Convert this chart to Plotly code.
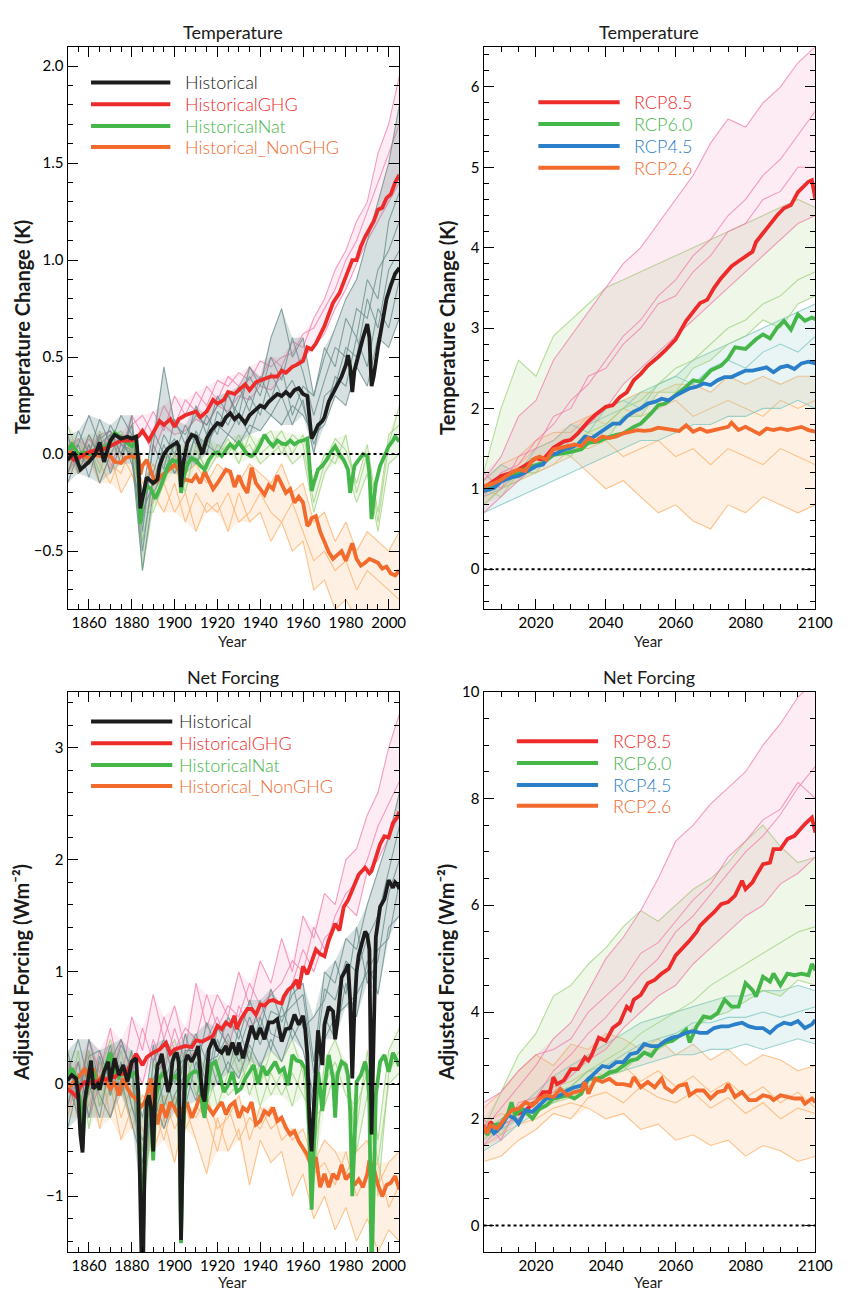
import plotly.graph_objects as go

FONT = "Lato"

# ---------------------------------------------------------------- data
HIST_YEARS = list(range(1850, 2006, 5))   # sample years of thin ensemble members (historical)
RCP_YEARS = list(range(2005, 2101, 5))    # sample years of thin ensemble members (scenarios)

# ---- Temperature change (K), historical experiments, multi-model mean (year, value)
T_HIST = [(1850,-0.03),(1853,0.01),(1856,-0.08),(1860,-0.04),(1863,0.0),(1865,0.06),(1867,-0.04),(1870,0.07),
          (1872,0.10),(1875,0.08),(1878,0.09),(1880,0.08),(1882,0.09),(1883,-0.03),(1884,-0.28),(1885,-0.23),
          (1887,-0.12),(1890,-0.15),(1892,-0.13),(1893,-0.06),(1895,0.0),(1897,0.03),(1900,0.05),(1901,0.06),
          (1902,0.04),(1903,-0.17),(1904,-0.05),(1906,0.06),(1908,0.10),(1910,0.09),(1912,0.03),(1913,0.0),
          (1915,0.08),(1917,0.12),(1920,0.16),(1922,0.15),(1924,0.19),(1926,0.21),(1928,0.18),(1930,0.20),
          (1933,0.16),(1935,0.20),(1937,0.22),(1940,0.25),(1942,0.24),(1944,0.27),(1946,0.29),(1948,0.31),
          (1950,0.30),(1952,0.32),(1954,0.30),(1956,0.33),(1958,0.34),(1960,0.31),(1962,0.30),(1963,0.19),
          (1964,0.08),(1965,0.10),(1967,0.15),(1969,0.17),(1970,0.19),(1972,0.27),(1974,0.31),(1976,0.35),
          (1978,0.40),(1980,0.46),(1981,0.51),(1982,0.45),(1983,0.32),(1984,0.43),(1986,0.52),(1988,0.60),
          (1990,0.67),(1991,0.60),(1992,0.35),(1993,0.40),(1995,0.55),(1997,0.68),(1999,0.80),(2001,0.87),
          (2003,0.93),(2005,0.96)]
T_GHG = [(1850,0.0),(1853,-0.03),(1855,-0.02),(1858,0.0),(1860,0.01),(1863,0.02),(1865,0.02),(1868,0.03),
         (1870,0.04),(1873,0.06),(1875,0.07),(1878,0.07),(1880,0.07),(1883,0.09),(1885,0.12),(1888,0.07),
         (1890,0.11),(1893,0.17),(1895,0.15),(1898,0.18),(1900,0.14),(1902,0.18),(1905,0.20),(1908,0.21),
         (1910,0.22),(1912,0.19),(1915,0.22),(1918,0.28),(1920,0.26),(1923,0.28),(1925,0.32),(1928,0.31),
         (1930,0.33),(1933,0.36),(1935,0.33),(1938,0.37),(1940,0.38),(1943,0.39),(1945,0.40),(1948,0.40),
         (1950,0.43),(1952,0.42),(1955,0.45),(1957,0.46),(1960,0.48),(1962,0.55),(1964,0.54),(1966,0.57),
         (1968,0.61),(1970,0.66),(1972,0.72),(1974,0.78),(1977,0.83),(1980,0.91),(1983,1.0),(1985,1.0),
         (1987,1.07),(1989,1.12),(1991,1.16),(1993,1.20),(1995,1.26),(1997,1.27),(1999,1.32),(2001,1.34),
         (2003,1.40),(2005,1.44)]
T_NAT = [(1850,0.02),(1852,0.05),(1855,0.0),(1858,0.01),(1860,0.0),(1863,0.01),(1865,0.02),(1868,0.04),
         (1870,0.065),(1872,0.11),(1874,0.09),(1877,0.065),(1880,0.04),(1882,0.07),(1883,-0.06),(1884,-0.36),
         (1885,-0.23),(1887,-0.165),(1889,-0.18),(1891,-0.23),(1893,-0.18),(1895,-0.12),(1897,-0.06),(1899,-0.03),
         (1901,-0.04),(1902,-0.03),(1903,-0.20),(1904,-0.13),(1906,-0.05),(1908,-0.02),(1910,-0.03),(1912,-0.06),
         (1914,-0.08),(1916,-0.03),(1918,0.0),(1920,0.01),(1922,-0.01),(1924,0.02),(1926,0.05),(1928,0.03),
         (1930,0.06),(1932,0.03),(1934,0.0),(1936,-0.01),(1938,0.01),(1940,0.05),(1942,0.10),(1944,0.065),
         (1946,0.04),(1948,0.07),(1950,0.055),(1952,0.05),(1954,0.07),(1956,0.05),(1958,0.065),(1960,0.07),
         (1962,0.08),(1963,-0.05),(1964,-0.19),(1965,-0.15),(1967,-0.08),(1969,-0.06),(1971,-0.03),(1973,0.01),
         (1975,0.04),(1977,0.0),(1979,-0.03),(1981,-0.08),(1982,-0.20),(1983,-0.13),(1984,-0.06),(1986,-0.03),
         (1988,0.0),(1990,-0.01),(1991,-0.10),(1992,-0.335),(1993,-0.23),(1994,-0.15),(1996,-0.06),(1998,-0.01),
         (2000,0.04),(2002,0.07),(2003,0.09),(2005,0.065)]
T_NONGHG = [(1850,0.015),(1853,0.005),(1856,-0.01),(1860,-0.02),(1863,-0.005),(1866,-0.01),(1868,-0.005),
            (1870,-0.01),(1872,-0.04),(1875,-0.046),(1877,-0.02),(1880,-0.01),(1882,-0.02),(1883,0.005),
            (1884,-0.105),(1885,-0.06),(1887,-0.03),(1889,-0.09),(1891,-0.15),(1893,-0.12),(1895,-0.10),
            (1898,-0.07),(1900,-0.055),(1902,-0.08),(1903,-0.15),(1905,-0.13),(1908,-0.14),(1910,-0.11),
            (1912,-0.15),(1914,-0.09),(1916,-0.13),(1918,-0.18),(1920,-0.15),(1922,-0.11),(1924,-0.08),
            (1926,-0.09),(1928,-0.17),(1930,-0.11),(1932,-0.165),(1934,-0.20),(1936,-0.07),(1938,-0.15),
            (1940,-0.18),(1942,-0.21),(1944,-0.16),(1946,-0.18),(1948,-0.11),(1950,-0.15),(1952,-0.20),
            (1954,-0.18),(1956,-0.25),(1958,-0.22),(1960,-0.25),(1962,-0.37),(1963,-0.36),(1964,-0.33),
            (1966,-0.32),(1968,-0.40),(1970,-0.45),(1972,-0.505),(1974,-0.54),(1976,-0.52),(1978,-0.50),
            (1980,-0.55),(1982,-0.48),(1983,-0.46),(1985,-0.54),(1987,-0.575),(1989,-0.56),(1991,-0.54),
            (1993,-0.55),(1995,-0.56),(1997,-0.59),(1999,-0.58),(2001,-0.615),(2003,-0.625),(2005,-0.60)]

# thin individual runs (values at HIST_YEARS)
T_HIST_RUNS = [
    [-0.1,0.05,-0.12,0.08,0.12,0.0,0.15,-0.35,0.05,-0.08,0.18,0.05,0.25,0.1,0.3,0.2,0.35,0.22,0.4,0.28,0.45,0.2,0.35,0.3,0.55,0.45,0.7,0.6,0.9,0.8,1.2,1.35],
    [0.05,-0.05,0.1,-0.02,0.15,0.05,0.02,-0.5,-0.1,0.1,0.0,0.15,0.05,0.2,0.1,0.32,0.15,0.3,0.2,0.42,0.3,0.38,0.25,0.05,0.2,0.4,0.35,0.6,0.45,0.75,0.65,0.9],
    [-0.05,0.12,0.0,0.18,0.05,0.2,0.1,-0.2,0.12,0.0,0.08,-0.1,0.12,0.0,0.22,0.15,0.28,0.4,0.3,0.5,0.38,0.6,0.42,0.2,0.38,0.55,0.5,0.75,0.7,0.95,1.05,1.2],
    [0.1,-0.1,0.05,-0.15,0.0,0.1,-0.05,-0.3,-0.15,0.05,-0.1,0.0,-0.05,0.05,0.0,0.1,0.05,0.15,0.12,0.2,0.15,0.25,0.2,0.1,0.15,0.3,0.25,0.45,0.35,0.6,0.55,0.7],
    [0.0,0.05,0.2,0.05,0.1,-0.05,0.2,-0.4,0.05,0.45,0.15,0.1,0.2,0.15,0.25,0.3,0.2,0.45,0.35,0.6,0.75,0.5,0.6,0.3,0.5,0.65,0.8,0.9,1.1,1.3,1.5,1.8],
    [-0.15,0.0,-0.05,0.1,-0.1,0.05,0.0,-0.6,-0.2,-0.1,0.05,-0.05,0.1,0.05,0.15,0.1,0.2,0.1,0.25,0.2,0.3,0.15,0.28,0.0,0.3,0.35,0.55,0.5,0.8,0.65,0.95,1.05],
]
T_GHG_RUNS = [
    [0.05,-0.05,0.08,0.0,0.1,0.05,0.15,0.2,0.1,0.25,0.15,0.28,0.22,0.35,0.28,0.4,0.35,0.45,0.38,0.5,0.45,0.58,0.55,0.7,0.8,0.95,1.05,1.2,1.3,1.55,1.7,1.95],
    [-0.1,0.0,-0.05,0.05,-0.08,0.1,0.05,0.12,0.0,0.15,0.1,0.12,0.18,0.15,0.25,0.22,0.3,0.28,0.35,0.33,0.4,0.45,0.5,0.55,0.62,0.75,0.85,0.98,1.1,1.2,1.3,1.4],
    [0.0,0.08,0.02,0.1,0.12,0.0,0.2,0.1,0.22,0.12,0.3,0.2,0.32,0.25,0.38,0.35,0.42,0.38,0.48,0.45,0.5,0.52,0.62,0.65,0.75,0.85,1.0,1.1,1.25,1.4,1.55,1.7],
]
T_NAT_RUNS = [
    [0.05,-0.05,0.1,0.0,0.08,0.12,0.0,-0.45,-0.15,-0.05,0.05,-0.1,0.02,-0.08,0.05,0.0,0.1,-0.02,0.08,0.12,0.0,0.1,0.05,-0.25,-0.05,0.08,0.02,-0.15,0.05,-0.3,0.1,0.15],
    [-0.1,0.08,-0.05,0.12,0.0,0.05,0.1,-0.6,-0.25,0.0,-0.1,0.05,-0.05,0.1,-0.02,0.08,-0.05,0.1,0.0,0.05,0.12,0.0,0.1,-0.15,0.0,-0.05,0.1,-0.2,0.0,-0.35,0.05,0.25],
    [0.15,0.0,0.05,-0.1,0.1,0.0,0.05,-0.3,-0.3,-0.15,0.0,-0.2,0.05,-0.1,0.0,0.05,0.0,0.05,-0.05,0.0,0.05,-0.05,0.0,-0.3,-0.1,0.0,-0.05,-0.25,-0.1,-0.4,-0.05,0.0],
]
T_NONGHG_RUNS = [
    [0.0,-0.1,0.05,-0.05,-0.15,0.0,-0.1,-0.25,-0.2,-0.3,-0.15,-0.35,-0.2,-0.3,-0.25,-0.4,-0.2,-0.35,-0.3,-0.45,-0.35,-0.5,-0.45,-0.7,-0.65,-0.8,-0.75,-0.85,-0.8,-0.9,-0.85,-0.95],
    [-0.1,0.05,-0.05,0.1,-0.05,-0.1,0.05,-0.15,-0.05,-0.15,0.0,-0.1,-0.05,-0.15,-0.05,-0.1,-0.15,-0.05,-0.1,-0.15,-0.05,-0.2,-0.15,-0.35,-0.3,-0.45,-0.35,-0.5,-0.4,-0.45,-0.5,-0.4],
    [0.1,-0.05,0.0,-0.15,0.0,-0.2,-0.1,-0.3,-0.25,-0.15,-0.3,-0.2,-0.4,-0.25,-0.3,-0.2,-0.35,-0.3,-0.2,-0.3,-0.35,-0.25,-0.4,-0.55,-0.5,-0.6,-0.55,-0.7,-0.6,-0.65,-0.7,-0.75],
]

# ---- Temperature change (K), RCP scenarios, multi-model mean (year, value)
T_RCP85 = [(2005,1.01),(2008,1.10),(2010,1.16),(2013,1.20),(2015,1.24),(2018,1.32),(2020,1.38),(2022,1.36),
           (2025,1.51),(2028,1.59),(2030,1.61),(2032,1.69),(2035,1.84),(2037,1.92),(2040,2.02),(2042,2.04),
           (2044,2.14),(2046,2.20),(2048,2.35),(2050,2.43),(2052,2.53),(2055,2.64),(2057,2.72),(2060,2.86),
           (2062,3.00),(2063,3.09),(2065,3.20),(2067,3.31),(2069,3.35),(2071,3.50),(2073,3.62),(2076,3.77),
           (2078,3.83),(2080,3.89),(2082,3.95),(2083,4.07),(2086,4.24),(2089,4.40),(2091,4.49),(2093,4.53),
           (2095,4.69),(2097,4.77),(2098,4.82),(2099,4.84),(2100,4.60)]
T_RCP60 = [(2005,0.99),(2008,1.05),(2010,1.11),(2013,1.16),(2015,1.20),(2018,1.27),(2020,1.30),(2022,1.32),
           (2025,1.42),(2028,1.44),(2030,1.46),(2033,1.49),(2035,1.57),(2038,1.59),(2040,1.63),(2043,1.67),
           (2045,1.69),(2048,1.77),(2050,1.81),(2053,1.94),(2055,2.04),(2057,2.06),(2060,2.16),(2063,2.27),
           (2065,2.35),(2067,2.33),(2070,2.47),(2073,2.53),(2075,2.62),(2077,2.76),(2080,2.74),(2083,2.86),
           (2085,2.92),(2087,2.87),(2089,3.00),(2091,3.09),(2093,2.98),(2095,3.17),(2097,3.09),(2099,3.13),
           (2100,3.11)]
T_RCP45 = [(2005,0.97),(2008,1.01),(2010,1.09),(2013,1.14),(2015,1.16),(2018,1.24),(2020,1.28),(2022,1.30),
           (2024,1.42),(2026,1.44),(2028,1.49),(2030,1.51),(2032,1.55),(2034,1.65),(2036,1.63),(2038,1.69),
           (2040,1.75),(2042,1.81),(2044,1.81),(2046,1.90),(2048,1.96),(2050,2.00),(2052,2.06),(2054,2.08),
           (2056,2.12),(2058,2.10),(2060,2.16),(2062,2.20),(2064,2.25),(2066,2.27),(2068,2.31),(2070,2.29),
           (2072,2.35),(2074,2.39),(2076,2.39),(2078,2.43),(2080,2.47),(2082,2.47),(2084,2.49),(2086,2.51),
           (2088,2.45),(2090,2.51),(2092,2.53),(2094,2.49),(2096,2.56),(2098,2.58),(2100,2.56)]
T_RCP26 = [(2005,1.03),(2008,1.07),(2010,1.11),(2013,1.20),(2015,1.24),(2017,1.22),(2019,1.36),(2021,1.40),
           (2023,1.36),(2025,1.49),(2027,1.51),(2029,1.53),(2031,1.55),(2033,1.53),(2035,1.63),(2037,1.59),
           (2039,1.65),(2041,1.63),(2043,1.65),(2045,1.69),(2047,1.71),(2049,1.73),(2051,1.72),(2053,1.73),
           (2055,1.76),(2057,1.75),(2059,1.73),(2061,1.72),(2063,1.79),(2065,1.71),(2067,1.75),(2069,1.71),
           (2071,1.73),(2073,1.75),(2075,1.77),(2076,1.82),(2078,1.73),(2080,1.77),(2082,1.73),(2084,1.68),
           (2086,1.75),(2088,1.73),(2090,1.75),(2092,1.73),(2094,1.75),(2096,1.77),(2098,1.73),(2100,1.71)]

T_RCP85_RUNS = [
    [0.9,1.2,1.3,1.6,1.8,2.1,2.3,2.6,2.9,3.1,3.4,3.6,3.9,4.1,4.4,4.6,4.9,5.1,5.4,5.7],
    [1.1,1.4,1.9,2.1,2.6,2.9,3.2,3.5,3.8,4.0,4.3,4.6,4.9,5.3,5.6,5.5,5.8,6.0,6.3,6.5],
    [0.7,0.9,1.1,1.3,1.4,1.6,1.8,2.0,2.3,2.5,2.7,2.9,3.1,3.3,3.5,3.7,3.9,4.1,4.3,4.4],
    [1.2,1.0,1.4,1.5,1.9,2.0,2.4,2.5,2.8,3.0,3.3,3.4,3.7,3.9,4.2,4.3,4.6,4.7,5.0,5.0],
]
T_RCP60_RUNS = [
    [1.2,2.0,2.6,2.4,2.9,3.1,3.3,3.5,3.6,3.7,3.8,3.9,4.0,4.1,4.2,4.3,4.4,4.5,4.6,4.5],
    [0.8,1.0,1.1,1.3,1.4,1.5,1.7,1.8,2.0,2.1,2.3,2.5,2.6,2.8,3.0,3.1,3.3,3.4,3.6,3.7],
    [1.0,0.9,1.2,1.2,1.5,1.4,1.7,1.6,1.9,1.9,2.2,2.2,2.5,2.6,2.8,2.9,3.1,3.0,3.3,3.4],
]
T_RCP45_RUNS = [
    [0.9,1.0,1.2,1.3,1.5,1.6,1.8,1.9,2.0,2.2,2.3,2.4,2.6,2.7,2.8,2.9,3.0,3.1,3.2,3.3],
    [0.7,0.8,0.9,1.0,1.1,1.2,1.3,1.4,1.5,1.6,1.6,1.7,1.8,1.8,1.9,1.9,2.0,2.0,2.1,2.0],
    [1.1,1.3,1.2,1.5,1.6,1.8,1.7,2.0,2.1,2.0,2.3,2.4,2.3,2.5,2.6,2.5,2.7,2.8,2.7,2.9],
]
T_RCP26_RUNS = [
    [0.8,1.0,1.1,1.2,1.3,1.4,1.2,1.0,1.1,0.9,0.7,0.8,0.6,0.5,0.8,0.7,0.9,0.8,0.7,0.8],
    [1.0,1.1,1.3,1.5,1.6,1.8,1.9,2.0,2.1,2.2,2.2,2.3,2.3,2.2,2.4,2.3,2.4,2.3,2.4,2.4],
    [0.9,1.0,1.2,1.2,1.3,1.5,1.5,1.6,1.4,1.5,1.6,1.4,1.5,1.3,1.5,1.4,1.3,1.5,1.4,1.3],
    [1.1,1.3,1.4,1.6,1.7,1.7,1.9,1.8,2.0,1.9,2.0,2.1,1.9,2.0,2.1,2.0,1.9,2.1,2.0,2.1],
]

# ---- Adjusted forcing (W m-2), historical experiments, multi-model mean (year, value)
F_HIST = [(1850,0.035),(1852,0.08),(1854,0.05),(1855,-0.10),(1856,-0.45),(1857,-0.61),(1858,-0.155),(1860,0.11),
          (1861,0.21),(1862,-0.04),(1864,0.0),(1865,-0.05),(1867,0.11),(1869,0.20),(1870,0.02),(1872,0.23),
          (1874,0.08),(1876,0.17),(1878,0.02),(1880,0.20),(1882,0.23),(1883,-0.07),(1884,-0.98),(1885,-2.0),
          (1886,-0.68),(1887,-0.155),(1888,-0.10),(1889,-0.21),(1890,-0.60),(1891,-0.04),(1892,0.17),(1893,0.20),
          (1894,0.27),(1896,0.05),(1897,-0.07),(1898,0.0),(1899,0.20),(1900,0.26),(1901,0.28),(1902,0.20),
          (1903,-1.39),(1904,-0.39),(1905,0.20),(1906,0.26),(1908,0.20),(1910,0.28),(1911,0.34),(1912,0.11),
          (1913,-0.10),(1914,-0.155),(1915,0.05),(1916,0.31),(1918,0.40),(1920,0.31),(1922,0.28),(1924,0.34),
          (1925,0.26),(1927,0.37),(1929,0.26),(1930,0.37),(1932,0.23),(1934,0.37),(1936,0.52),(1938,0.40),
          (1940,0.50),(1942,0.40),(1944,0.55),(1946,0.55),(1948,0.58),(1950,0.38),(1952,0.49),(1954,0.50),
          (1956,0.62),(1958,0.53),(1960,0.61),(1961,0.49),(1962,0.26),(1963,-0.33),(1964,-0.60),(1965,-0.22),
          (1966,0.14),(1967,0.48),(1968,0.31),(1969,0.17),(1970,0.53),(1972,0.69),(1974,0.65),(1975,0.40),
          (1976,0.55),(1977,0.80),(1978,0.95),(1980,1.02),(1981,1.07),(1982,0.75),(1983,0.05),(1984,0.67),
          (1985,1.0),(1986,1.15),(1988,1.31),(1989,1.36),(1990,1.33),(1991,1.20),(1992,-0.45),(1993,0.67),
          (1994,1.31),(1996,1.58),(1998,1.65),(2000,1.82),(2002,1.75),(2003,1.80),(2004,1.78),(2005,1.74)]
F_GHG = [(1850,-0.05),(1852,-0.07),(1854,-0.11),(1856,-0.02),(1858,0.02),(1860,0.0),(1862,0.03),(1864,0.02),
         (1866,0.05),(1868,0.04),(1870,0.07),(1872,0.06),(1874,0.10),(1876,0.09),(1878,0.12),(1880,0.20),
         (1882,0.27),(1885,0.17),(1887,0.24),(1890,0.28),(1893,0.31),(1896,0.37),(1898,0.27),(1900,0.31),
         (1903,0.33),(1905,0.34),(1908,0.33),(1910,0.39),(1913,0.38),(1915,0.40),(1918,0.43),(1920,0.52),
         (1922,0.49),(1924,0.55),(1926,0.52),(1928,0.61),(1929,0.49),(1931,0.58),(1934,0.67),(1936,0.67),
         (1938,0.62),(1940,0.71),(1942,0.70),(1944,0.74),(1946,0.75),(1948,0.73),(1950,0.72),(1951,0.78),
         (1953,0.84),(1955,0.87),(1957,0.93),(1958,0.85),(1960,1.05),(1962,0.98),(1964,1.08),(1966,1.20),
         (1968,1.16),(1970,1.14),(1972,1.28),(1975,1.43),(1977,1.37),(1979,1.58),(1981,1.64),(1984,1.78),
         (1986,1.87),(1989,1.93),(1991,1.88),(1992,1.90),(1994,2.02),(1996,2.14),(1998,2.21),(2000,2.20),
         (2002,2.33),(2004,2.38),(2005,2.43)]
F_NAT = [(1850,0.08),(1852,0.14),(1854,0.06),(1856,-0.16),(1857,-0.57),(1858,-0.18),(1860,0.02),(1862,0.11),
         (1864,-0.04),(1866,0.05),(1868,0.17),(1870,0.28),(1872,0.11),(1874,0.06),(1876,0.11),(1878,0.05),
         (1880,0.08),(1882,0.11),(1883,-0.04),(1884,-0.98),(1885,-1.57),(1886,-0.74),(1887,-0.155),(1888,-0.10),
         (1889,-0.24),(1890,-0.68),(1891,-0.155),(1893,0.05),(1895,0.11),(1897,-0.01),(1899,0.05),(1901,0.08),
         (1902,0.02),(1903,-1.42),(1904,-0.45),(1905,-0.04),(1907,0.08),(1909,0.11),(1911,0.11),(1912,0.02),
         (1913,-0.21),(1914,-0.30),(1915,-0.10),(1917,0.17),(1919,0.20),(1921,0.08),(1923,-0.07),(1925,-0.01),
         (1927,0.11),(1929,-0.07),(1931,-0.04),(1933,0.05),(1935,0.11),(1937,0.17),(1939,0.0),(1941,0.16),
         (1943,0.08),(1945,0.14),(1947,0.20),(1949,0.11),(1951,0.14),(1953,-0.01),(1955,0.26),(1957,0.21),
         (1959,0.20),(1961,0.14),(1962,0.02),(1963,-0.54),(1964,-1.12),(1965,-0.60),(1966,-0.16),(1967,0.11),
         (1968,-0.04),(1969,-0.24),(1970,-0.04),(1972,0.26),(1974,0.05),(1975,-0.30),(1976,0.08),(1978,0.20),
         (1980,0.17),(1981,0.08),(1982,-0.24),(1983,-1.0),(1984,-0.54),(1985,0.02),(1987,0.08),(1989,0.20),
         (1990,0.11),(1991,-0.15),(1992,-1.75),(1993,-0.98),(1994,-0.10),(1996,0.20),(1998,0.26),(2000,0.11),
         (2002,0.28),(2004,0.20),(2005,0.16)]
F_NONGHG = [(1850,-0.04),(1853,0.02),(1856,0.08),(1858,0.14),(1860,0.05),(1862,0.14),(1864,0.0),(1866,0.08),
            (1868,0.02),(1870,-0.04),(1872,0.02),(1874,-0.10),(1876,0.05),(1878,-0.04),(1880,-0.10),(1882,-0.13),
            (1884,-0.21),(1886,-0.16),(1888,-0.04),(1889,0.05),(1890,-0.16),(1892,-0.36),(1894,-0.18),(1896,-0.30),
            (1898,-0.16),(1900,-0.21),(1902,-0.30),(1904,-0.21),(1906,-0.18),(1908,-0.30),(1910,-0.21),(1912,-0.10),
            (1914,-0.16),(1916,-0.21),(1918,-0.27),(1920,-0.21),(1922,-0.16),(1924,-0.27),(1926,-0.19),(1928,-0.16),
            (1930,-0.30),(1932,-0.21),(1934,-0.24),(1936,-0.16),(1938,-0.36),(1940,-0.33),(1942,-0.24),(1944,-0.27),
            (1946,-0.21),(1948,-0.33),(1950,-0.30),(1952,-0.39),(1954,-0.45),(1956,-0.42),(1958,-0.51),(1960,-0.57),
            (1962,-0.63),(1964,-0.74),(1966,-0.65),(1968,-0.92),(1970,-0.80),(1972,-0.92),(1974,-0.80),(1976,-0.85),
            (1978,-0.72),(1980,-0.85),(1982,-0.80),(1984,-0.90),(1986,-0.85),(1988,-0.92),(1990,-0.80),(1991,-0.68),
            (1993,-0.75),(1995,-0.90),(1997,-1.0),(1999,-0.90),(2001,-0.88),(2003,-0.82),(2005,-0.94)]

F_HIST_RUNS = [
    [0.3,-0.2,0.4,0.0,0.35,-0.1,0.3,-0.9,0.2,0.4,0.0,0.45,0.1,0.55,0.3,0.6,0.4,0.75,0.5,0.85,0.55,0.8,0.9,0.2,1.0,0.9,1.3,1.2,1.6,1.9,2.2,2.6],
    [-0.2,0.2,-0.3,0.25,-0.1,0.2,-0.2,-0.5,-0.3,0.0,0.3,-0.2,0.2,-0.1,0.4,0.1,0.5,0.2,0.6,0.3,0.7,0.4,0.6,-0.3,0.6,0.4,0.9,0.6,1.1,0.8,1.4,1.5],
    [0.1,0.4,0.0,-0.3,0.2,0.4,0.1,-0.3,0.35,-0.2,0.1,0.25,0.45,0.2,0.25,0.45,0.2,0.4,0.75,0.45,0.4,0.9,0.5,0.6,0.75,1.1,0.8,1.4,0.9,1.1,1.7,2.0],
    [-0.4,0.0,0.15,-0.1,-0.3,0.05,-0.35,-0.7,-0.1,-0.4,-0.1,0.1,-0.15,0.3,0.0,0.2,0.05,0.35,0.15,0.4,0.2,0.5,0.3,-0.1,0.4,0.6,0.7,0.8,1.0,1.2,1.3,1.8],
    [0.05,-0.3,0.25,0.3,0.0,0.35,0.15,-1.1,0.05,0.2,-0.25,0.3,0.3,0.0,0.5,0.35,0.3,0.6,0.35,0.65,0.6,0.7,0.8,0.1,0.85,0.75,1.1,1.0,1.3,1.5,1.9,2.3],
]
F_GHG_RUNS = [
    [0.2,-0.1,0.4,0.1,0.5,0.0,0.6,0.3,0.8,0.4,0.7,0.3,0.9,0.5,0.8,0.6,1.0,0.7,1.1,0.9,1.3,1.0,1.5,1.3,1.7,1.6,2.0,2.1,2.4,2.6,3.0,3.3],
    [-0.2,0.1,-0.1,0.3,0.0,0.4,0.1,0.5,0.2,0.6,0.3,0.5,0.4,0.8,0.5,0.7,0.6,0.9,0.7,0.8,0.9,1.1,1.0,1.4,1.2,1.5,1.7,1.8,2.0,2.3,2.5,2.7],
    [0.0,0.2,-0.3,0.0,0.3,0.1,0.2,0.0,0.4,0.1,0.5,0.2,0.3,0.4,0.6,0.3,0.7,0.5,0.6,0.8,0.7,0.9,1.2,1.0,1.3,1.4,1.6,1.5,1.9,2.0,2.2,2.4],
]
F_NAT_RUNS = [
    [0.3,-0.1,0.2,0.1,0.4,0.0,0.3,-1.2,-0.1,0.2,0.4,0.0,0.3,0.1,0.2,0.4,0.1,0.3,0.0,0.3,0.2,0.4,0.1,-0.9,0.2,0.4,0.1,-0.4,0.3,-0.5,0.3,0.5],
    [-0.2,0.3,-0.4,0.2,-0.1,0.3,-0.2,-0.6,0.2,-0.2,0.1,0.3,-0.1,0.2,-0.2,0.1,0.3,-0.1,0.2,-0.1,0.1,-0.2,0.2,-0.6,0.0,0.2,-0.1,-0.2,0.1,-1.0,0.1,0.3],
    [0.1,0.0,0.3,-0.2,0.2,-0.1,0.1,-0.9,-0.4,0.1,-0.2,0.1,0.0,-0.2,0.1,-0.1,0.0,0.2,-0.2,0.1,-0.1,0.1,-0.1,-0.3,-0.2,0.1,0.2,-0.6,-0.1,-0.7,0.0,0.1],
]
F_NONGHG_RUNS = [
    [0.2,-0.3,0.1,-0.4,0.0,-0.5,-0.2,-0.4,-0.6,-0.3,-0.7,-0.2,-0.5,-0.8,-0.3,-0.6,-0.4,-0.9,-0.5,-0.7,-0.6,-1.0,-0.8,-1.2,-1.0,-1.3,-1.1,-1.4,-1.2,-1.5,-1.3,-1.4],
    [-0.3,0.1,-0.2,0.2,-0.3,0.0,-0.4,-0.1,-0.2,-0.5,-0.1,-0.4,-0.2,-0.3,-0.6,-0.2,-0.5,-0.3,-0.4,-0.2,-0.5,-0.4,-0.6,-0.8,-0.7,-0.9,-0.6,-1.0,-0.8,-0.7,-1.1,-0.9],
    [0.0,-0.1,0.3,-0.2,0.1,-0.3,0.0,-0.6,-0.3,-0.1,-0.4,-0.2,-0.3,-0.1,-0.4,-0.3,-0.1,-0.5,-0.2,-0.4,-0.3,-0.5,-0.4,-0.7,-0.5,-0.6,-0.8,-0.6,-0.5,-0.9,-0.7,-0.6],
]

# ---- Adjusted forcing (W m-2), RCP scenarios, multi-model mean (year, value)
F_RCP85 = [(2005,1.88),(2006,1.73),(2007,1.94),(2009,1.79),(2010,1.88),(2012,2.07),(2013,2.19),(2015,2.10),
           (2017,2.16),(2019,2.28),(2020,2.31),(2022,2.50),(2024,2.50),(2025,2.78),(2026,2.65),(2028,2.72),
           (2030,2.93),(2032,2.93),(2034,3.15),(2035,3.09),(2036,3.20),(2038,3.52),(2040,3.46),(2042,3.70),
           (2044,3.80),(2046,4.10),(2047,4.04),(2048,4.23),(2050,4.32),(2052,4.54),(2054,4.60),(2056,4.72),
           (2058,4.81),(2060,5.06),(2062,5.19),(2064,5.34),(2066,5.50),(2067,5.62),(2069,5.75),(2071,5.87),
           (2073,6.02),(2075,6.06),(2077,6.18),(2079,6.46),(2080,6.30),(2082,6.43),(2083,6.55),(2085,6.77),
           (2087,6.80),(2088,7.05),(2090,7.05),(2092,7.24),(2094,7.30),(2096,7.45),(2097,7.52),(2099,7.64),
           (2100,7.36)]
F_RCP60 = [(2005,1.85),(2006,1.70),(2008,1.88),(2010,1.91),(2012,2.10),(2013,2.31),(2014,2.07),(2016,2.19),
           (2018,2.07),(2019,2.0),(2021,2.19),(2023,2.25),(2025,2.38),(2027,2.41),(2029,2.44),(2031,2.38),
           (2033,2.47),(2035,2.75),(2037,2.75),(2039,2.78),(2041,2.87),(2043,2.90),(2045,2.99),(2047,3.09),
           (2049,3.12),(2051,3.24),(2053,3.18),(2055,3.36),(2057,3.43),(2059,3.46),(2061,3.55),(2063,3.67),
           (2064,3.43),(2066,3.73),(2068,3.92),(2070,3.89),(2072,3.98),(2074,4.23),(2076,4.10),(2078,4.10),
           (2080,4.54),(2082,4.41),(2083,4.29),(2085,4.66),(2087,4.57),(2088,4.72),(2090,4.50),(2092,4.72),
           (2094,4.69),(2096,4.72),(2098,4.69),(2099,4.90),(2100,4.78)]
F_RCP45 = [(2005,1.79),(2007,1.82),(2008,1.73),(2010,1.85),(2012,2.07),(2014,2.0),(2015,1.91),(2017,2.16),
           (2019,2.13),(2021,2.25),(2023,2.38),(2025,2.41),(2027,2.44),(2029,2.53),(2031,2.59),(2033,2.62),
           (2035,2.75),(2037,2.87),(2039,2.99),(2041,2.96),(2043,3.06),(2045,3.06),(2047,3.21),(2049,3.24),
           (2051,3.40),(2053,3.36),(2055,3.36),(2057,3.46),(2059,3.52),(2061,3.55),(2063,3.61),(2065,3.64),
           (2067,3.61),(2069,3.61),(2071,3.70),(2073,3.73),(2075,3.73),(2077,3.77),(2079,3.80),(2081,3.73),
           (2083,3.70),(2085,3.70),(2087,3.61),(2089,3.73),(2091,3.80),(2093,3.77),(2095,3.83),(2097,3.70),
           (2099,3.77),(2100,3.85)]
F_RCP26 = [(2005,1.88),(2006,1.73),(2007,1.88),(2009,1.82),(2011,2.0),(2013,2.16),(2015,2.19),(2017,2.31),
           (2019,2.25),(2021,2.38),(2023,2.44),(2025,2.41),(2027,2.56),(2029,2.44),(2031,2.50),(2033,2.53),
           (2034,2.69),(2035,2.47),(2037,2.75),(2039,2.69),(2041,2.75),(2043,2.65),(2045,2.65),(2047,2.62),
           (2048,2.78),(2050,2.59),(2052,2.69),(2054,2.59),(2056,2.75),(2057,2.59),(2059,2.50),(2061,2.62),
           (2063,2.65),(2064,2.44),(2066,2.53),(2068,2.53),(2070,2.38),(2072,2.50),(2074,2.53),(2075,2.65),
           (2077,2.41),(2079,2.50),(2081,2.35),(2083,2.35),(2085,2.44),(2087,2.41),(2088,2.35),(2090,2.44),
           (2092,2.41),(2094,2.38),(2096,2.38),(2097,2.28),(2099,2.38),(2100,2.31)]

F_RCP85_RUNS = [
    [1.8,2.2,2.6,3.0,3.5,3.8,4.4,5.0,5.4,5.9,6.5,7.2,7.5,7.9,8.2,8.5,9.0,9.4,9.9,10.2],
    [2.0,1.6,2.3,2.4,2.9,3.2,3.6,3.9,4.3,4.7,5.0,5.5,5.8,6.2,6.6,7.0,7.3,7.7,8.2,8.6],
    [1.5,1.9,2.0,2.3,2.5,2.8,3.1,3.3,3.7,4.0,4.3,4.5,4.9,5.2,5.5,5.8,6.0,6.4,6.6,6.9],
    [2.3,2.5,2.9,3.2,3.3,3.5,4.0,4.3,4.6,5.1,5.3,5.7,6.1,6.4,6.9,7.2,7.6,7.8,8.3,8.0],
]
F_RCP60_RUNS = [
    [1.8,2.5,3.2,3.6,4.3,4.5,4.9,5.2,5.6,5.9,5.7,6.0,6.3,6.5,6.8,7.2,7.5,7.1,6.8,6.9],
    [1.6,1.9,2.0,2.3,2.5,2.6,2.9,3.1,3.3,3.6,3.8,4.0,4.2,4.5,4.7,4.9,5.1,5.3,5.5,5.6],
    [2.0,1.7,2.2,2.1,2.3,2.4,2.6,2.8,2.9,3.2,3.3,3.5,3.7,3.9,4.0,4.2,4.4,4.3,4.6,4.5],
]
F_RCP45_RUNS = [
    [1.7,2.0,2.2,2.5,2.8,3.0,3.2,3.4,3.6,3.8,3.9,4.0,4.1,4.2,4.3,4.3,4.4,4.4,4.5,4.4],
    [1.9,1.8,2.0,2.2,2.3,2.5,2.6,2.8,2.9,3.0,3.1,3.2,3.2,3.3,3.3,3.4,3.3,3.4,3.5,3.4],
    [1.4,1.6,1.9,2.1,2.4,2.6,2.9,3.0,3.2,3.4,3.5,3.6,3.8,3.8,3.9,3.9,4.0,3.9,4.0,4.1],
]
F_RCP26_RUNS = [
    [2.2,2.5,2.9,3.2,3.0,3.4,3.3,3.6,3.5,3.3,3.5,3.2,3.4,3.1,3.3,3.0,3.2,3.1,2.9,3.0],
    [1.5,1.7,1.9,2.0,2.2,2.3,2.2,2.0,2.1,1.8,1.9,1.6,1.7,1.5,1.6,1.3,1.5,1.4,1.2,1.3],
    [1.2,1.3,1.6,1.8,2.1,2.0,2.4,2.5,2.3,2.6,2.4,2.3,2.5,2.2,2.4,2.1,2.3,2.0,2.2,2.1],
    [1.9,2.1,2.0,2.4,2.6,2.7,2.9,2.8,3.0,2.7,2.9,2.6,2.8,2.5,2.7,2.4,2.6,2.3,2.5,2.2],
]

HIST_LABELS = ["Historical", "HistoricalGHG", "HistoricalNat", "Historical_NonGHG"]
RCP_LABELS = ["RCP8.5", "RCP6.0", "RCP4.5", "RCP2.6"]

# ---------------------------------------------------------------- styling
W, H = 852, 1290
BLACK, RED, GREEN, ORANGE, BLUE = "#1c1c1c", "#ee2b2b", "#45b649", "#f26a2c", "#2a7fc8"
# (line colour, band colour) for the thin ensemble runs
M_PINK = ("rgba(240,125,172,0.75)", "rgba(242,140,182,0.17)")
M_GRAY = ("rgba(100,136,136,0.75)", "rgba(110,145,145,0.28)")
M_GREEN = ("rgba(160,210,125,0.75)", "rgba(170,215,140,0.20)")
M_ORANGE = ("rgba(252,180,112,0.80)", "rgba(252,190,130,0.22)")
M_TEAL = ("rgba(125,198,192,0.75)", "rgba(140,205,200,0.20)")
THICK = 3.8

fig = go.Figure()


def add(xa, ya, xs, ys, color, width):
    fig.add_trace(go.Scatter(x=xs, y=ys, mode="lines", xaxis=xa, yaxis=ya,
                             line=dict(color=color, width=width),
                             showlegend=False, hoverinfo="skip"))


def add_mean(xa, ya, pairs, color):
    add(xa, ya, [p[0] for p in pairs], [p[1] for p in pairs], color, THICK)


def add_runs(xa, ya, years, runs, colors):
    line_c, band_c = colors
    lo = [min(v) for v in zip(*runs)]
    hi = [max(v) for v in zip(*runs)]
    fig.add_trace(go.Scatter(x=years + years[::-1], y=hi + lo[::-1], mode="lines",
                             fill="toself", fillcolor=band_c, line=dict(width=0),
                             xaxis=xa, yaxis=ya, showlegend=False, hoverinfo="skip"))
    for r in runs:
        add(xa, ya, years, r, line_c, 1.1)


# top-left: historical temperature
add_runs("x", "y", HIST_YEARS, T_NONGHG_RUNS, M_ORANGE)
add_runs("x", "y", HIST_YEARS, T_NAT_RUNS, M_GREEN)
add_runs("x", "y", HIST_YEARS, T_GHG_RUNS, M_PINK)
add_runs("x", "y", HIST_YEARS, T_HIST_RUNS, M_GRAY)
add_mean("x", "y", T_NONGHG, ORANGE)
add_mean("x", "y", T_NAT, GREEN)
add_mean("x", "y", T_GHG, RED)
add_mean("x", "y", T_HIST, BLACK)

# top-right: scenario temperature
add_runs("x2", "y2", RCP_YEARS, T_RCP26_RUNS, M_ORANGE)
add_runs("x2", "y2", RCP_YEARS, T_RCP45_RUNS, M_TEAL)
add_runs("x2", "y2", RCP_YEARS, T_RCP60_RUNS, M_GREEN)
add_runs("x2", "y2", RCP_YEARS, T_RCP85_RUNS, M_PINK)
add_mean("x2", "y2", T_RCP85, RED)
add_mean("x2", "y2", T_RCP60, GREEN)
add_mean("x2", "y2", T_RCP45, BLUE)
add_mean("x2", "y2", T_RCP26, ORANGE)

# bottom-left: historical forcing
add_runs("x3", "y3", HIST_YEARS, F_NONGHG_RUNS, M_ORANGE)
add_runs("x3", "y3", HIST_YEARS, F_NAT_RUNS, M_GREEN)
add_runs("x3", "y3", HIST_YEARS, F_GHG_RUNS, M_PINK)
add_runs("x3", "y3", HIST_YEARS, F_HIST_RUNS, M_GRAY)
add_mean("x3", "y3", F_NONGHG, ORANGE)
add_mean("x3", "y3", F_NAT, GREEN)
add_mean("x3", "y3", F_GHG, RED)
add_mean("x3", "y3", F_HIST, BLACK)

# bottom-right: scenario forcing
add_runs("x4", "y4", RCP_YEARS, F_RCP26_RUNS, M_ORANGE)
add_runs("x4", "y4", RCP_YEARS, F_RCP45_RUNS, M_TEAL)
add_runs("x4", "y4", RCP_YEARS, F_RCP60_RUNS, M_GREEN)
add_runs("x4", "y4", RCP_YEARS, F_RCP85_RUNS, M_PINK)
add_mean("x4", "y4", F_RCP85, RED)
add_mean("x4", "y4", F_RCP60, GREEN)
add_mean("x4", "y4", F_RCP45, BLUE)
add_mean("x4", "y4", F_RCP26, ORANGE)

# ---------------------------------------------------------------- axes
XL = [69 / W, 408 / W]
XR = [494 / W, 833 / W]
YT = [1 - 604 / H, 1 - 37 / H]
YB = [1 - 1252 / H, 1 - 687 / H]
TICKFONT = dict(family=FONT, size=15, color="black")


def axis(domain, rng, tick0, dtick, mtick0, mdtick, anchor, fmt=None):
    d = dict(domain=domain, range=rng, anchor=anchor, showline=True, linecolor="black",
             linewidth=1.3, mirror="allticks", ticks="inside", ticklen=10, tickwidth=1.3,
             tickcolor="black", tick0=tick0, dtick=dtick, showgrid=False, zeroline=False,
             tickfont=TICKFONT,
             minor=dict(ticks="inside", ticklen=5, tickwidth=1, tickcolor="black",
                        tick0=mtick0, dtick=mdtick, showgrid=False))
    if fmt:
        d["tickformat"] = fmt
    return d


fig.update_layout(
    width=W, height=H, margin=dict(l=0, r=0, t=0, b=0),
    paper_bgcolor="white", plot_bgcolor="white", showlegend=False,
    xaxis=axis(XL, [1850, 2005], 1860, 20, 1850, 5, "y"),
    yaxis=axis(YT, [-0.8, 2.1], 0, 0.5, 0, 0.1, "x", ".1f"),
    xaxis2=axis(XR, [2005, 2100], 2020, 20, 2005, 5, "y2"),
    yaxis2=axis(YT, [-0.5, 6.5], 0, 1, 0, 0.2, "x2"),
    xaxis3=axis(XL, [1850, 2005], 1860, 20, 1850, 5, "y3"),
    yaxis3=axis(YB, [-1.5, 3.5], 0, 1, 0, 0.2, "x3"),
    xaxis4=axis(XR, [2005, 2100], 2020, 20, 2005, 5, "y4"),
    yaxis4=axis(YB, [-0.5, 10], 0, 2, 0, 0.5, "x4"),
)

shapes = []
# dotted zero lines
for xr, yr in (("x", "y"), ("x2", "y2"), ("x3", "y3"), ("x4", "y4")):
    shapes.append(dict(type="line", xref=xr + " domain", yref=yr, x0=0, x1=1, y0=0, y1=0,
                       line=dict(color="black", width=2, dash="dot"), layer="above"))

annotations = []


def text(s, x, y, size, color="#1a1a1a", angle=0, anchor="center", weight=None):
    f = dict(family=FONT, size=size, color=color)
    if weight:
        f["weight"] = weight
    annotations.append(dict(text=s, x=x / W, y=1 - y / H, xref="paper", yref="paper",
                            showarrow=False, textangle=angle, xanchor=anchor, yanchor="middle",
                            font=f))


# panel titles
text("Temperature", 238, 22, 18)
text("Temperature", 663, 22, 18)
text("Net Forcing", 238, 672, 18)
text("Net Forcing", 663, 672, 18)
# x titles
text("Year", 238, 636, 15)
text("Year", 663, 636, 15)
text("Year", 238, 1282, 15)
text("Year", 663, 1282, 15)
# y titles
text("Temperature Change (K)", 22, 320, 20, angle=-90, weight="bold")
text("Temperature Change (K)", 456, 320, 20, angle=-90, weight="bold")
text("Adjusted Forcing (Wm⁻²)", 22, 970, 20, angle=-90, weight="bold")
text("Adjusted Forcing (Wm⁻²)", 456, 970, 20, angle=-90, weight="bold")


def legend(labels, colors, x0, x1, xt, ys):
    for lab, col, yy in zip(labels, colors, ys):
        shapes.append(dict(type="line", xref="paper", yref="paper", x0=x0 / W, x1=x1 / W,
                           y0=1 - yy / H, y1=1 - yy / H, line=dict(color=col, width=4)))
        text(lab, xt, yy, 18, color=col, anchor="left", weight=300)


legend(HIST_LABELS, [BLACK, RED, GREEN, ORANGE], 93, 174, 187, [73, 95, 117, 138])
legend(RCP_LABELS, [RED, GREEN, BLUE, ORANGE], 550, 633, 646, [93, 115, 137, 159])
legend(HIST_LABELS, [BLACK, RED, GREEN, ORANGE], 93, 176, 181, [717, 739, 761, 782])
legend(RCP_LABELS, [RED, GREEN, BLUE, ORANGE], 528, 611, 624, [737, 759, 781, 802])

fig.update_layout(shapes=shapes, annotations=annotations)
fig.write_html("out.html",
               post_script="document.body.style.margin='0';document.body.style.overflow='hidden';")
